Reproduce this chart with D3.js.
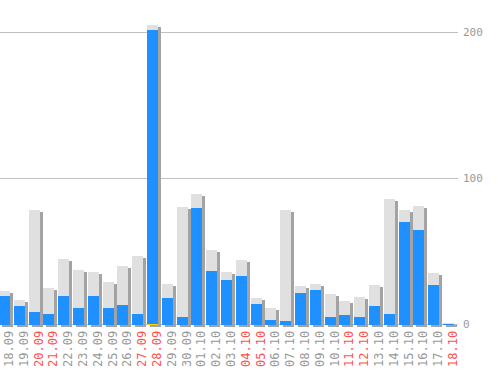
<!DOCTYPE html>
<html>
<head>
<meta charset="utf-8">
<script src="https://cdn.jsdelivr.net/npm/d3@7"></script>
<style>
  body { margin: 0; background: #fff; }
  svg { display: block; }
</style>
</head>
<body>
<div id="chart"></div>
<script>
// days shown on the x axis
var days = ["18.09","19.09","20.09","21.09","22.09","23.09","24.09","25.09","26.09","27.09",
            "28.09","29.09","30.09","01.10","02.10","03.10","04.10","05.10","06.10","07.10",
            "08.10","09.10","10.10","11.10","12.10","13.10","14.10","15.10","16.10","17.10","18.10"];
// weekend days get red labels
var weekend = ["20.09","21.09","27.09","28.09","04.10","05.10","11.10","12.10","18.10"];
// total (light gray) and part (blue) per day
var total = [23.3,17.1,78.8,25.3,45.2,37.7,36.3,29.5,40.4,47.3,
             205.5,28.1,80.8,89.7,51.4,36.3,44.5,18.5,11.6,78.8,
             26.7,28.1,21.2,16.4,19.2,27.4,86.3,78.8,81.5,35.6,1.4];
var part = [19.9,13,8.9,7.5,19.9,11.6,19.9,11.6,13.7,7.5,
            202,18.5,5.5,80.1,37,30.8,33.6,14.4,3.4,2.7,
            21.9,24,5.5,6.8,5.5,13,7.5,70.5,65,27.4,0.7];
// small yellow series at the bottom
var extra = [0,0,0,0,0,0,0,0,0,0,
             0.7,0,0,0,0,0,0,0,0,0,
             0,0,0,0,0,0,0,0,0,0,0];
var yTicks = [0, 100, 200];

var width = 498, height = 370, base = 325;

var svg = d3.select("#chart")
  .append("svg")
    .attr("width", width)
    .attr("height", height);

var x = d3.scaleBand()
  .domain(days)
  .range([-1, 454])
  .paddingInner(0.257)
  .paddingOuter(0);

var y = d3.scaleLinear()
  .domain([0, 200])
  .range([324.5, 32.5]);

// gridlines
svg.append("g")
  .selectAll("line")
  .data(yTicks)
  .enter()
  .append("line")
    .attr("x1", 0)
    .attr("x2", 458)
    .attr("y1", d => y(d))
    .attr("y2", d => y(d))
    .style("stroke", "#c0c0c0")
    .style("stroke-width", 1);

// y labels on the right
svg.append("g")
  .selectAll("text")
  .data(yTicks)
  .enter()
  .append("text")
    .attr("x", 463)
    .attr("y", d => y(d))
    .attr("dy", "0.36em")
    .style("font-family", "DejaVu Sans Mono, monospace")
    .style("font-size", "11px")
    .style("fill", "#999")
    .text(d => d);

var data = days.map((d, i) => ({day: d, total: total[i], part: part[i], extra: extra[i]}));

function barTop(v) { return Math.round(y(v) + 0.5); }
function bx(d) { return Math.round(x(d)); }

var bars = svg.append("g").attr("shape-rendering", "crispEdges");

// shadows
bars.append("g")
  .selectAll("rect")
  .data(data)
  .enter()
  .append("rect")
    .attr("x", d => bx(d.day) + 3)
    .attr("y", d => barTop(d.total) + 2)
    .attr("width", 11)
    .attr("height", d => base - barTop(d.total))
    .style("fill", "#a3a3a3");

// totals
bars.append("g")
  .selectAll("rect")
  .data(data)
  .enter()
  .append("rect")
    .attr("x", d => bx(d.day))
    .attr("y", d => barTop(d.total))
    .attr("width", 11)
    .attr("height", d => base - barTop(d.total))
    .style("fill", "#e0e0e0");

// blue part
bars.append("g")
  .selectAll("rect")
  .data(data)
  .enter()
  .append("rect")
    .attr("x", d => bx(d.day))
    .attr("y", d => barTop(d.part))
    .attr("width", 11)
    .attr("height", d => base - barTop(d.part))
    .style("fill", "#1e90ff");

// yellow part
bars.append("g")
  .selectAll("rect")
  .data(data.filter(d => d.extra > 0))
  .enter()
  .append("rect")
    .attr("x", d => bx(d.day))
    .attr("y", d => barTop(d.extra))
    .attr("width", 11)
    .attr("height", d => base - barTop(d.extra))
    .style("fill", "#ffcc00");

// x labels, rotated
svg.append("g")
  .selectAll("text")
  .data(days)
  .enter()
  .append("text")
    .attr("transform", d => "translate(" + (bx(d) + 5.5 + 4) + "," + 367 + ") rotate(-90)")
    .attr("dy", "0.36em")
    .style("text-anchor", "start")
    .style("font-family", "DejaVu Sans Mono, monospace")
    .style("font-size", "12px")
    .style("fill", d => weekend.includes(d) ? "#ff4f4f" : "#999")
    .text(d => d);
</script>
</body>
</html>
